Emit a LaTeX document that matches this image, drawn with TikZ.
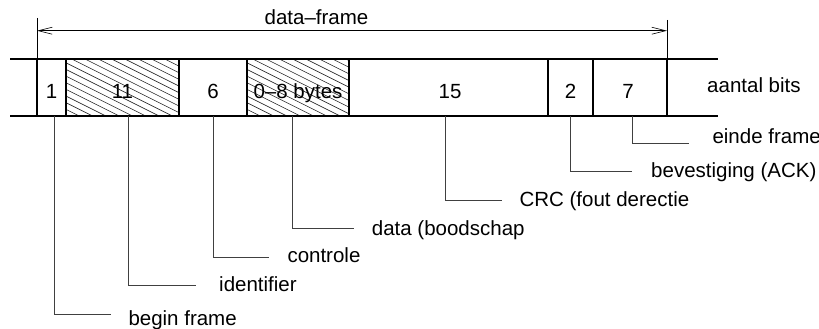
\documentclass[tikz,border=0pt]{standalone}
\usepackage{fontspec}
\setmainfont{Liberation Sans}
\usetikzlibrary{arrows.meta}
\begin{document}
\begin{tikzpicture}[x=1pt,y=-1pt,
  frame/.style={line width=1.3pt},
  thin line/.style={line width=0.6pt},
  leader/.style={line width=0.8pt, draw=black!75},
  hatchline/.style={line width=0.6pt, draw=black!85},
  txt/.style={inner sep=0pt, font=\fontsize{20.5}{24}\selectfont},
  lbl/.style={txt, anchor=base west},
  num/.style={txt, anchor=base},
  barb/.tip={Straight Barb[length=14pt,width=7pt]}]
\useasboundingbox (0,0) rectangle (819,329);

% field boundaries
\coordinate (f0) at (37,59);
\coordinate (f1) at (66,59);
\coordinate (f2) at (179,59);
\coordinate (f3) at (247,59);
\coordinate (f4) at (349,59);
\coordinate (f5) at (548,59);
\coordinate (f6) at (593,59);
\coordinate (f7) at (667,59);

% hatching
\foreach \xa/\xb in {66/179, 247/349}{
  \begin{scope}
    \clip (\xa,59) rectangle (\xb,116);
    \foreach \i in {0,...,18}{
      \pgfmathsetmacro{\xs}{\xa-114+13.3*\i}
      \draw[hatchline] (\xs,59) -- ++(114,57);
    }
  \end{scope}
}

% frame lines
\draw[frame] (10,59) -- (718,59);
\draw[frame] (10,116) -- (718,116);
\foreach \i in {0,...,7}{
  \draw[frame] (f\i) -- ++(0,57);
}
\coordinate (d0) at (37,18);
\coordinate (d1) at (667,20);
\draw[thin line] (d0) -- (f0);
\draw[thin line] (d1) -- (f7);
\coordinate (a0) at (37,30.7);
\coordinate (a1) at (667,30.7);
\draw[thin line, barb-barb] (a0) -- (a1);
\node[num] (df) at (316.5,25) {data–frame};

% field numbers
\node[num] (n1) at (51.5,99) {1};
\node[num] (n2) at (122.5,99) {11};
\node[num] (n3) at (213,99) {6};
\node[num] (n4) at (298,99) {0–8 bytes};
\node[num] (n5) at (450,99) {15};
\node[num] (n6) at (570.5,99) {2};
\node[num] (n7) at (628,99) {7};
\node[lbl] (ab) at (707,92.3) {aantal bits};

% leaders
\foreach \name/\sx/\ey/\ex/\tx/\ty/\t in {
  bf/54.3/314.3/111/128.3/325/{begin frame},
  id/128.3/285.7/196/219/291.7/{identifier},
  co/213.3/257/269.3/287.3/262.7/{controle},
  da/292.7/228.7/354.3/371.7/235/{data (boodschap},
  cr/445.7/200/501.7/519.3/206.7/{CRC (fout derectie},
  be/570.7/171.7/632.3/651/177.7/{bevestiging (ACK)},
  ei/632.7/143.5/689.3/712.3/143.5/{einde frame}}{
  \coordinate (s-\name) at (\sx,116);
  \coordinate (e-\name) at (\ex,\ey);
  \draw[leader] (s-\name) |- (e-\name);
  \node[lbl] (t-\name) at (\tx,\ty) {\t};
}
\end{tikzpicture}
\end{document}
